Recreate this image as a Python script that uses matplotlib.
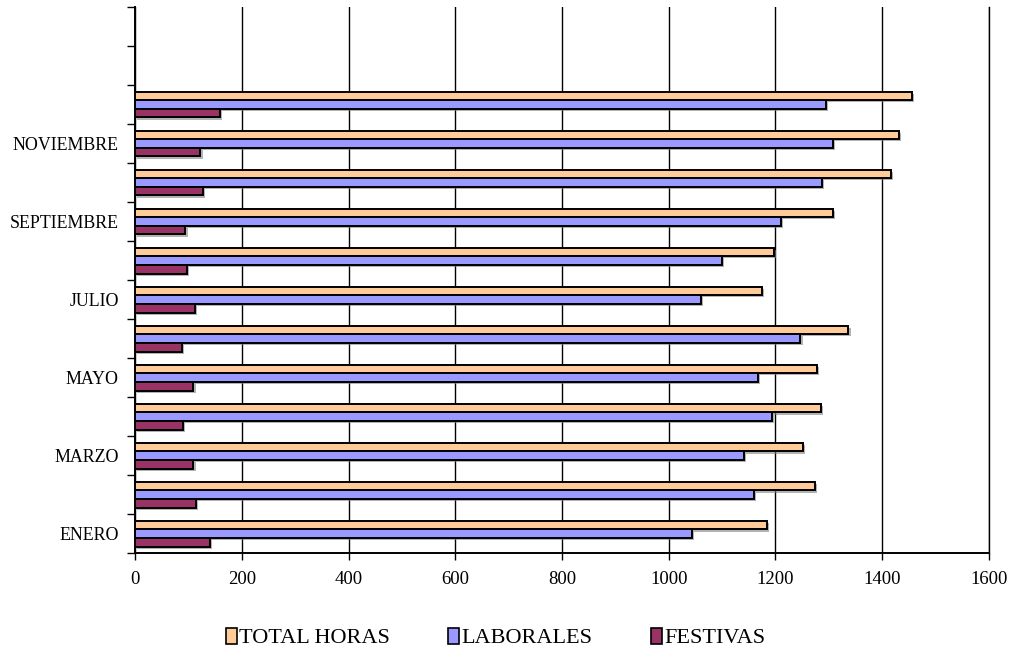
import matplotlib
matplotlib.use("Agg")
import matplotlib.pyplot as plt
import matplotlib.patheffects as pe
import numpy as np

meses = ["ENERO", "FEBRERO", "MARZO", "ABRIL", "MAYO", "JUNIO", "JULIO",
         "AGOSTO", "SEPTIEMBRE", "OCTUBRE", "NOVIEMBRE", "DICIEMBRE"]
total_horas = [1185, 1274, 1252, 1286, 1278, 1337, 1175, 1198, 1308, 1416, 1431, 1456]
laborales = [1043, 1159, 1141, 1194, 1167, 1247, 1061, 1100, 1211, 1287, 1308, 1295]
festivas = [140, 114, 109, 89, 109, 88, 112, 97, 94, 127, 122, 159]
x_ticks = [0, 200, 400, 600, 800, 1000, 1200, 1400, 1600]
n_slots = 14  # twelve months plus two empty slots at the top

plt.rcParams["font.family"] = ["Liberation Serif", "DejaVu Serif"]

fig = plt.figure(figsize=(10.17, 6.55), dpi=100)
ax = fig.add_axes([0.1331, 0.1553, 0.9722 - 0.1331, 0.9893 - 0.1553])

y = np.arange(len(meses))
h = 0.22
shadow = [pe.SimplePatchShadow(offset=(1.5, -1.5), shadow_rgbFace="#808080", alpha=0.6),
          pe.Normal()]
series = [
    ("TOTAL HORAS", total_horas, "#FFCC99", h),
    ("LABORALES", laborales, "#9999FF", 0.0),
    ("FESTIVAS", festivas, "#993366", -h),
]
handles = []
for name, vals, col, off in series:
    bars = ax.barh(y + off, vals, height=h, color=col, edgecolor="black",
                   linewidth=1.4, label=name, zorder=3)
    for b in bars:
        b.set_path_effects(shadow)
    handles.append(bars)

ax.set_xlim(0, 1600)
ax.set_ylim(-0.5, n_slots - 0.5)
ax.set_xticks(x_ticks)
ax.set_xticklabels([str(v) for v in x_ticks], fontsize=13.5)
ax.xaxis.grid(True, color="black", linewidth=1.0, zorder=0)
ax.set_axisbelow(True)

# boundary ticks between category slots, labels on every other month
ax.set_yticks(np.arange(-0.5, n_slots, 1.0))
ax.set_yticklabels([])
ax.set_yticks(y[::2], minor=True)
ax.set_yticklabels(meses[::2], minor=True, fontsize=12.9)
ax.tick_params(axis="y", which="major", length=6, width=1.0, direction="out")
ax.tick_params(axis="y", which="minor", length=0, pad=12)
ax.tick_params(axis="x", length=5, width=1.0, direction="out", pad=8)

ax.spines["top"].set_visible(False)
ax.spines["right"].set_linewidth(1.0)
ax.spines["right"].set_color("black")
for s in ["left", "bottom"]:
    ax.spines[s].set_linewidth(1.4)

leg = fig.legend(handles=handles, labels=[s[0] for s in series], loc="center",
                 bbox_to_anchor=(495.5 / 1017, 1 - 638 / 655), ncol=3, frameon=False,
                 fontsize=16, handlelength=0.5, handleheight=0.75,
                 handletextpad=0.12, columnspacing=2.6)
for p in leg.legend_handles:
    p.set_linewidth(1.2)
    p.set_path_effects([])

fig.savefig("out.png", dpi=100)
